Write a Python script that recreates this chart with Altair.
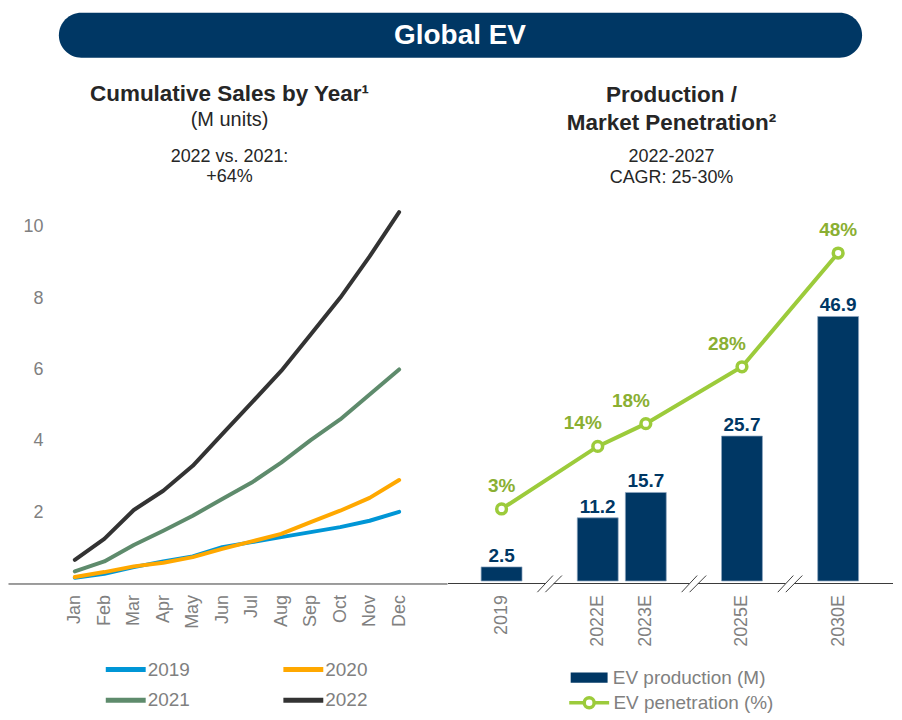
import json
import altair as alt
import pandas as pd

# ---------------- data ----------------
months = ["Jan", "Feb", "Mar", "Apr", "May", "Jun", "Jul", "Aug", "Sep", "Oct", "Nov", "Dec"]
sales_years = ["2019", "2020", "2021", "2022"]
sales_2019 = [0.16, 0.27, 0.46, 0.62, 0.76, 1.02, 1.16, 1.30, 1.44, 1.58, 1.76, 2.01]
sales_2020 = [0.18, 0.32, 0.48, 0.58, 0.74, 0.97, 1.18, 1.39, 1.72, 2.04, 2.40, 2.90]
sales_2021 = [0.34, 0.62, 1.08, 1.48, 1.90, 2.37, 2.83, 3.39, 4.02, 4.60, 5.30, 6.00]
sales_2022 = [0.66, 1.25, 2.06, 2.60, 3.30, 4.19, 5.07, 5.96, 6.98, 8.01, 9.17, 10.41]
left_ticks = [2, 4, 6, 8, 10]

prod_years = [2019, 2022, 2023, 2025, 2030]
prod_suffix = ["", "E", "E", "E", "E"]
ev_production = [2.5, 11.2, 15.7, 25.7, 46.9]
ev_penetration = [3, 14, 18, 28, 48]

banner_text = "Global EV"
left_title = "Cumulative Sales by Year\u00b9"
left_unit = "(M units)"
left_note = ["2022 vs. 2021:", "+64%"]
right_title = ["Production /", "Market Penetration\u00b2"]
right_note = ["2022-2027", "CAGR: 25-30%"]
prod_legend = "EV production (M)"
pen_legend = "EV penetration (%)"

# ---------------- style ----------------
FONT = "Liberation Sans"
NAVY = "#003764"
LIME = "#9CCB3B"
OLIVE = "#8AAF32"
GRAY = "#808080"
INK = "#262626"
AXIS_C = "#3a3a3a"
sales_colors = ["#0096D6", "#FFA800", "#5E8B6C", "#333333"]

LW, RW, H = 440, 446, 520
L_STEP = 29.55        # px per month
L_UNIT = 35.75        # px per M units
R_STEP = 48.2         # px per slot
BAR_UNIT = 5.653      # px per M units (bars)
PEN_UNIT = 5.70       # px per % point

# ---------------- left panel ----------------
rows = []
for yr, vals in zip(sales_years, [sales_2019, sales_2020, sales_2021, sales_2022]):
    for i, v in enumerate(vals):
        rows.append({"m": i, "year": yr, "value": v})
sales_df = pd.DataFrame(rows)

left_x_domain = [-67 / L_STEP, (len(months) - 1) + (LW - 392) / L_STEP]
left_y_domain = [0, H / L_UNIT]
month_expr = json.dumps(months) + "[datum.value]"

lines = alt.Chart(sales_df).mark_line(strokeWidth=4, strokeCap="round", strokeJoin="round").encode(
    x=alt.X("m:Q", scale=alt.Scale(domain=left_x_domain, nice=False, zero=False),
            axis=alt.Axis(values=list(range(len(months))), labelExpr=month_expr, title=None,
                          labelAngle=270, ticks=False, grid=False, domainColor=AXIS_C,
                          domainWidth=1, labelPadding=11, labelFontSize=18, labelColor=GRAY,
                          labelFont=FONT)),
    y=alt.Y("value:Q", scale=alt.Scale(domain=left_y_domain, nice=False, zero=False),
            axis=alt.Axis(values=left_ticks, title=None, domain=False, ticks=False, grid=False,
                          offset=-37, labelPadding=2, labelFontSize=18, labelColor=GRAY,
                          labelFont=FONT)),
    color=alt.Color("year:N", scale=alt.Scale(domain=sales_years, range=sales_colors),
                    legend=alt.Legend(title=None, orient="none", direction="horizontal",
                                      legendX=95.5, legendY=593.5,
                                      columns=2, columnPadding=83, rowPadding=8,
                                      symbolType="M-1,0H3", symbolSize=400, symbolStrokeWidth=5,
                                      labelFontSize=19, labelColor=GRAY, labelFont=FONT,
                                      labelOffset=19.5, padding=0)),
)


def text_layer(txt, x, y, size, weight="normal", color=INK):
    return alt.Chart(pd.DataFrame({"t": [txt]})).mark_text(
        font=FONT, fontSize=size, fontWeight=weight, color=color,
        align="center", baseline="middle"
    ).encode(text="t:N", x=alt.value(x), y=alt.value(y))


left = alt.layer(
    lines,
    text_layer(left_title, 222, 29.5, 22.5, "bold"),
    text_layer(left_unit, 222, 55.5, 20),
    text_layer(left_note[0], 222, 92.7, 18),
    text_layer(left_note[1], 222, 112.7, 18),
).properties(width=LW, height=H)

# ---------------- right panel ----------------
pos, breaks = [], []
p = 0
for i, yv in enumerate(prod_years):
    if i > 0:
        if yv - prod_years[i - 1] > 1:
            breaks.append(p + 1)
            p += 2
        else:
            p += 1
    pos.append(p)

labels = [f"{y}{s}" for y, s in zip(prod_years, prod_suffix)]
prod_df = pd.DataFrame({
    "pos": pos,
    "label": labels,
    "prod": ev_production,
    "pen": ev_penetration,
    "pen_label": [f"{v}%" for v in ev_penetration],
    "interior": [0 < i < len(pos) - 1 for i in range(len(pos))],
    "prod_name": prod_legend,
    "pen_name": pen_legend,
})

right_x_domain = [pos[0] - 53.7 / R_STEP, pos[-1] + (RW - 391) / R_STEP]
bar_y_domain = [-2.5 / BAR_UNIT, (H - 2.5) / BAR_UNIT]
pen_y_domain = [-(583 - 525.4) / PEN_UNIT, (525.4 - 63) / PEN_UNIT]

year_expr = " : ".join(f"datum.value == {q} ? '{l}'" for q, l in zip(pos, labels)) + " : ''"
x_scale = alt.Scale(domain=right_x_domain, nice=False, zero=False, padding=0)
x_axis = alt.Axis(values=pos, labelExpr=year_expr, title=None, labelAngle=270, ticks=False,
                  grid=False, domain=False, labelPadding=11, labelFlush=False,
                  labelOverlap=False, labelFontSize=18, labelColor=GRAY, labelFont=FONT)
bar_y = alt.Scale(domain=bar_y_domain, nice=False, zero=False)
pen_y = alt.Scale(domain=pen_y_domain, nice=False, zero=False)


def rx(field):
    # every layer carries the same x axis spec so that the shared axis is not disabled
    return alt.X(f"{field}:Q", scale=x_scale, axis=x_axis)


bars = alt.Chart(prod_df).mark_bar(size=41, stroke="#8ea6c0", strokeWidth=0.7).encode(
    x=rx("pos"),
    y=alt.Y("prod:Q", scale=bar_y, axis=None),
    color=alt.Color("prod_name:N", scale=alt.Scale(domain=[prod_legend], range=[NAVY]),
                    legend=alt.Legend(title=None, orient="none", legendX=122.7, legendY=604.9,
                                      symbolType="M-1,-0.55H3V0.55H-1Z",
                                      symbolSize=342, symbolStrokeWidth=0, labelLimit=300,
                                      labelFontSize=19, labelColor=GRAY, labelFont=FONT,
                                      labelOffset=23.5, padding=0)),
)

bar_labels = alt.Chart(prod_df).mark_text(
    font=FONT, fontSize=19, fontWeight="bold", color=NAVY, baseline="bottom", dy=-1
).encode(
    x=rx("pos"),
    y=alt.Y("prod:Q", scale=bar_y, axis=None),
    text=alt.Text("prod:Q", format=".1f"),
)

# baseline with gaps at the axis breaks, and the "//" break marks
edges = [right_x_domain[0]]
for b in breaks:
    edges += [b - 0.093, b + 0.083]
edges.append(right_x_domain[1])
base_df = pd.DataFrame({"xa": edges[0::2], "xb": edges[1::2]})

slash_rows = []
for b in breaks:
    for a, z in [(-0.255, 0.068), (-0.089, 0.255)]:
        slash_rows.append({"xa": b + a, "xb": b + z})
slash_df = pd.DataFrame(slash_rows)

baseline = alt.Chart(base_df).mark_rule(color=AXIS_C, strokeWidth=1).encode(
    x=rx("xa"), x2="xb:Q",
    y=alt.Y("ya:Q", scale=bar_y, axis=None), y2="ya:Q",
).transform_calculate(ya=str(bar_y_domain[0]))

slashes = alt.Chart(slash_df).mark_rule(color="#404040", strokeWidth=1).encode(
    x=rx("xa"), x2="xb:Q",
    y=alt.Y("ya:Q", scale=bar_y, axis=None), y2="yb:Q",
).transform_calculate(ya="-1.98", yb="0.97")

pen_line = alt.Chart(prod_df).mark_line(strokeWidth=4).encode(
    x=rx("pos"),
    y=alt.Y("pen:Q", scale=pen_y, axis=None),
    stroke=alt.Stroke("pen_name:N", scale=alt.Scale(domain=[pen_legend], range=[LIME]),
                      legend=alt.Legend(title=None, orient="none", legendX=119.5, legendY=627.5,
                                        symbolType="M-1,0H0.5M1.5,0H3M1.5,0A0.5,0.5,0,1,1,0.5,0A0.5,0.5,0,1,1,1.5,0",
                                        symbolSize=400, symbolStrokeWidth=3.5,
                                        symbolFillColor="white", labelLimit=300,
                                        labelFontSize=19, labelColor=GRAY, labelFont=FONT,
                                        labelOffset=22.3, padding=0)),
)

pen_points = alt.Chart(prod_df).mark_point(
    shape="circle", filled=True, fill="white", stroke=LIME, strokeWidth=3.5, size=95, opacity=1
).encode(
    x=rx("pos"),
    y=alt.Y("pen:Q", scale=pen_y, axis=None),
)


def pen_text(flag, dx):
    return alt.Chart(prod_df).transform_filter(
        f"datum.interior == {str(flag).lower()}"
    ).mark_text(
        font=FONT, fontSize=19, fontWeight="bold", color=OLIVE, baseline="bottom", dy=-13, dx=dx
    ).encode(
        x=rx("pos"),
        y=alt.Y("pen:Q", scale=pen_y, axis=None),
        text="pen_label:N",
    )


right = alt.layer(
    bars, baseline, slashes, bar_labels,
    pen_line, pen_points, pen_text(False, 0), pen_text(True, -15),
    text_layer(right_title[0], 224, 30, 22.5, "bold"),
    text_layer(right_title[1], 224, 58, 22.5, "bold"),
    text_layer(right_note[0], 224, 92.7, 18),
    text_layer(right_note[1], 224, 113.5, 18),
).resolve_scale(y="independent").properties(width=RW, height=H)

# ---------------- banner ----------------
banner_df = pd.DataFrame({"t": [banner_text]})
banner = alt.layer(
    alt.Chart(banner_df).mark_rect(color=NAVY, cornerRadius=22.5).encode(
        x=alt.value(51), x2=alt.value(856), y=alt.value(4), y2=alt.value(49)),
    alt.Chart(banner_df).mark_text(font=FONT, fontSize=28, fontWeight="bold", color="white",
                                   align="center", baseline="middle").encode(
        text="t:N", x=alt.value(453), y=alt.value(27.5)),
).properties(width=LW + RW, height=56)

panels = alt.hconcat(left, right, spacing=0).resolve_scale(color="independent", stroke="independent")

chart = alt.vconcat(banner, panels, spacing=0).properties(
    padding={"left": 0, "right": 0, "top": 0, "bottom": 0}
).configure(font=FONT).configure_view(stroke="transparent", strokeWidth=0)

chart.save("out.html", embed_options={"renderer": "svg", "actions": False})
